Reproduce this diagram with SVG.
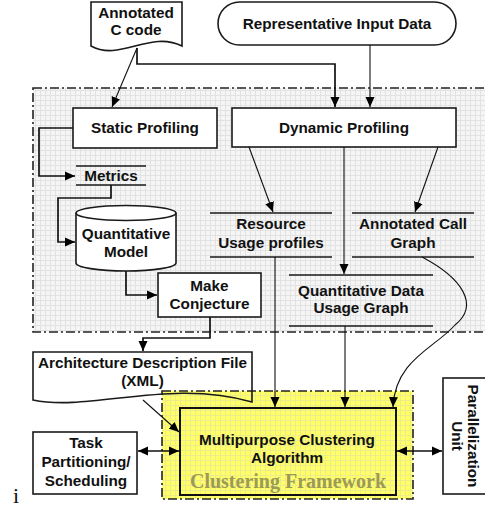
<svg xmlns="http://www.w3.org/2000/svg" width="485" height="507" viewBox="0 0 485 507">
<defs>
<pattern id="gridGray" width="5" height="5" patternUnits="userSpaceOnUse">
<rect width="5" height="5" fill="#f5f5f5"/>
<path d="M0,0.5H5M0.5,0V5" stroke="#e2e2e2" stroke-width="1" fill="none"/>
</pattern>
<pattern id="gridYellow" width="5" height="5" patternUnits="userSpaceOnUse">
<rect width="5" height="5" fill="#ffff66"/>
<path d="M0,0.5H5M0.5,0V5" stroke="#ecec8c" stroke-width="1" fill="none"/>
</pattern>
<marker id="arr" markerUnits="userSpaceOnUse" markerWidth="11" markerHeight="10" refX="10" refY="5" orient="auto-start-reverse" viewBox="0 0 11 10">
<path d="M0,0.5 L10,5 L0,9.5 z" fill="#000"/>
</marker>
</defs>
<style>
.lbl{font-family:"Liberation Sans",Arial,sans-serif;font-weight:bold;font-size:15.3px;fill:#111;text-anchor:middle}
.box{fill:#fff;stroke:#1a1a1a;stroke-width:1.6}
.ln{fill:none;stroke:#111;stroke-width:1.1}
.ln2{fill:none;stroke:#111;stroke-width:1.7}
.store{fill:none;stroke:#1a1a1a;stroke-width:1.6}
.region{stroke:#222;stroke-width:1.6;stroke-dasharray:9 3 2 3}
</style>

<g id="profiling-region">
<rect class="region" x="33" y="88" width="460" height="244" fill="url(#gridGray)"/>
</g>
<g id="clustering-framework">
<rect class="region" x="162" y="391" width="251" height="108" fill="url(#gridYellow)"/>
<text x="288" y="488" font-family="'Liberation Serif','Times New Roman',serif" font-weight="bold" font-size="20" fill="#9c9a55" text-anchor="middle">Clustering Framework</text>
</g>

<g id="annotated-c-code">
<path class="box" d="M91,2 H182 V46 C150,30 120,62 91,46 Z"/>
<text class="lbl" x="136" y="17.5">Annotated</text>
<text class="lbl" x="136" y="34.5">C code</text>
</g>
<g id="representative-input-data">
<rect class="box" x="218" y="2" width="238" height="43" rx="21.5"/>
<text class="lbl" x="337" y="28.5">Representative Input Data</text>
</g>
<g id="static-profiling">
<rect class="box" x="73" y="108" width="144" height="40"/>
<text class="lbl" x="145" y="133.3">Static Profiling</text>
</g>
<g id="dynamic-profiling">
<rect class="box" x="232" y="108" width="224" height="39"/>
<text class="lbl" x="344" y="132.7">Dynamic Profiling</text>
</g>
<g id="metrics">
<path class="store" d="M76,166H146M76,185H146"/>
<text class="lbl" x="111" y="180.5">Metrics</text>
</g>
<g id="quantitative-model">
<path class="box" d="M76,213 A50,7.5 0 0 1 176,213 V263 A50,8 0 0 1 76,263 Z"/>
<path class="store" d="M76,213 A50,7.5 0 0 0 176,213"/>
<text class="lbl" x="126" y="239">Quantitative</text>
<text class="lbl" x="126" y="257.3">Model</text>
</g>
<g id="make-conjecture">
<rect class="box" x="158" y="273" width="103" height="44"/>
<text class="lbl" x="209.5" y="290.7">Make</text>
<text class="lbl" x="209.5" y="309">Conjecture</text>
</g>
<g id="resource-usage-profiles">
<path class="store" d="M210,213H332M210,257H332"/>
<text class="lbl" x="271" y="229.3">Resource</text>
<text class="lbl" x="271" y="248.3">Usage profiles</text>
</g>
<g id="annotated-call-graph">
<path class="store" d="M352,213H474M352,257H474"/>
<text class="lbl" x="413" y="229.3">Annotated Call</text>
<text class="lbl" x="413" y="248.3">Graph</text>
</g>
<g id="quantitative-data-usage-graph">
<path class="store" d="M289,275H433M289,326H433"/>
<text class="lbl" x="361" y="296">Quantitative Data</text>
<text class="lbl" x="361" y="313.3">Usage Graph</text>
</g>
<g id="architecture-description-file">
<path class="store" d="M33,400 V352 H252 V402 C170,378 90,412 33,400 Z"/>
<text class="lbl" x="142.5" y="367.7">Architecture Description File</text>
<text class="lbl" x="142.5" y="386">(XML)</text>
</g>
<g id="multipurpose-clustering">
<rect x="180" y="408" width="216" height="87" fill="none" stroke="#111" stroke-width="2"/>
<text class="lbl" x="287" y="445">Multipurpose Clustering</text>
<text class="lbl" x="287" y="463.3">Algorithm</text>
</g>
<g id="task-partitioning">
<rect class="box" x="33" y="432" width="104" height="62"/>
<text class="lbl" x="86" y="448.3">Task</text>
<text class="lbl" x="86" y="466.7">Partitioning/</text>
<text class="lbl" x="86" y="485.7">Scheduling</text>
</g>
<g id="parallelization-unit">
<rect class="box" x="443" y="378" width="50" height="116"/>
<text class="lbl" transform="translate(468,436) rotate(90)">Parallelization</text>
<text class="lbl" transform="translate(452,436) rotate(90)">Unit</text>
</g>
<g id="footnote">
<text x="13" y="503" font-family="'Liberation Serif','Times New Roman',serif" font-size="22" fill="#111">i</text>
</g>

<g id="connectors">
<path class="ln" d="M137,48 L112,107" marker-end="url(#arr)"/>
<path class="ln2" d="M137,48 V64 H335 V107" marker-end="url(#arr)"/>
<path class="ln" d="M370,45 V107" marker-end="url(#arr)"/>
<path class="ln2" d="M73,128 H39 V176 H75" marker-end="url(#arr)"/>
<path class="ln2" d="M111,185 V198 H58 V242 H75" marker-end="url(#arr)"/>
<path class="ln2" d="M126,271 V295 H157" marker-end="url(#arr)"/>
<path class="ln2" d="M210,317 V338 H143 V351" marker-end="url(#arr)"/>
<path class="ln" d="M249,147 L273,212" marker-end="url(#arr)"/>
<path class="ln" d="M344,147 V274" marker-end="url(#arr)"/>
<path class="ln" d="M438,147 L415,212" marker-end="url(#arr)"/>
<path class="ln" d="M275,257 V407" marker-end="url(#arr)"/>
<path class="ln" d="M345,326 V407" marker-end="url(#arr)"/>
<path class="ln" d="M422,257 C462,278 480,305 455,325 C435,348 395,360 393,407" marker-end="url(#arr)"/>
<path class="ln" d="M143,400 L179,432" marker-end="url(#arr)"/>
<path class="ln2" d="M138,451 H179" marker-start="url(#arr)" marker-end="url(#arr)"/>
<path class="ln2" d="M397,451 H442" marker-start="url(#arr)" marker-end="url(#arr)"/>
</g>
</svg>
